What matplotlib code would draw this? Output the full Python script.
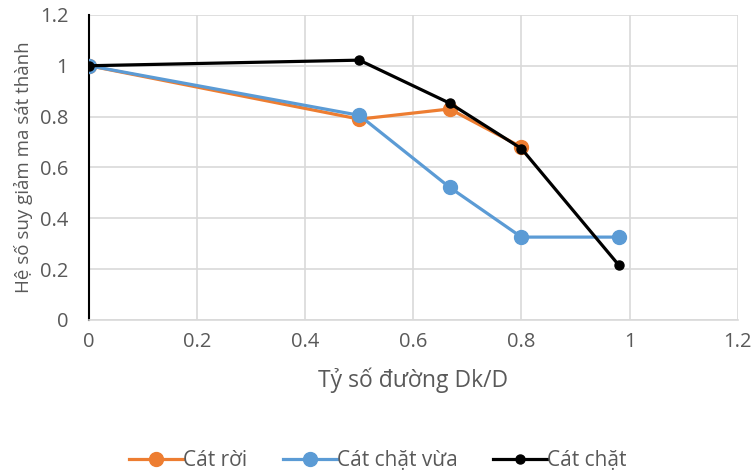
import matplotlib.pyplot as plt

plt.rcParams['font.family'] = ['Open Sans', 'DejaVu Sans']

# data
x_roi = [0, 0.5, 0.667, 0.8]
y_roi = [1.0, 0.79, 0.83, 0.68]

x_vua = [0, 0.5, 0.667, 0.8, 0.98]
y_vua = [1.0, 0.805, 0.522, 0.326, 0.326]

x_chat = [0, 0.5, 0.667, 0.8, 0.98]
y_chat = [1.0, 1.022, 0.853, 0.674, 0.216]

xticks = [0, 0.2, 0.4, 0.6, 0.8, 1, 1.2]
yticks = [0, 0.2, 0.4, 0.6, 0.8, 1, 1.2]
tick_lbl = ['0', '0.2', '0.4', '0.6', '0.8', '1', '1.2']

fig = plt.figure(figsize=(7.55, 4.73), dpi=100)
ax = fig.add_axes([0.118, 0.3235, 0.859, 0.645])

ax.plot(x_roi, y_roi, color='#ed7d31', lw=2.3, marker='o', ms=10, label='Cát rời', zorder=3)
ax.plot(x_vua, y_vua, color='#5b9bd5', lw=2.3, marker='o', ms=10, label='Cát chặt vừa', zorder=4)
ax.plot(x_chat, y_chat, color='black', lw=2.3, marker='o', ms=6.5, label='Cát chặt', zorder=5)

ax.set_xlim(0, 1.2)
ax.set_ylim(0, 1.2)
ax.set_xticks(xticks)
ax.set_xticklabels(tick_lbl)
ax.set_yticks(yticks)
ax.set_yticklabels(tick_lbl)
ax.grid(True, color='#d9d9d9', lw=1.2)
ax.set_axisbelow(True)
for s in ['top', 'right']:
    ax.spines[s].set_visible(False)
ax.spines['bottom'].set_color('#d9d9d9')
ax.spines['bottom'].set_linewidth(1.2)
ax.spines['left'].set_color('black')
ax.spines['left'].set_linewidth(1.5)
ax.tick_params(axis='x', length=0, labelsize=14.5, colors='#595959', pad=9)
ax.tick_params(axis='y', length=0, labelsize=14.5, colors='#595959', pad=15)

ax.set_xlabel('Tỷ số đường Dk/D', fontsize=16.5, color='#595959', labelpad=11)
ax.set_ylabel('Hệ số suy giảm ma sát thành', fontsize=13.5, color='#595959', labelpad=5)

ax.legend(loc='upper center', bbox_to_anchor=(0.445, -0.365), ncol=3, frameon=False,
          fontsize=15, labelcolor='#595959', handlelength=2.6, columnspacing=1.7,
          handletextpad=0.0)

fig.savefig('out.png', dpi=100)
